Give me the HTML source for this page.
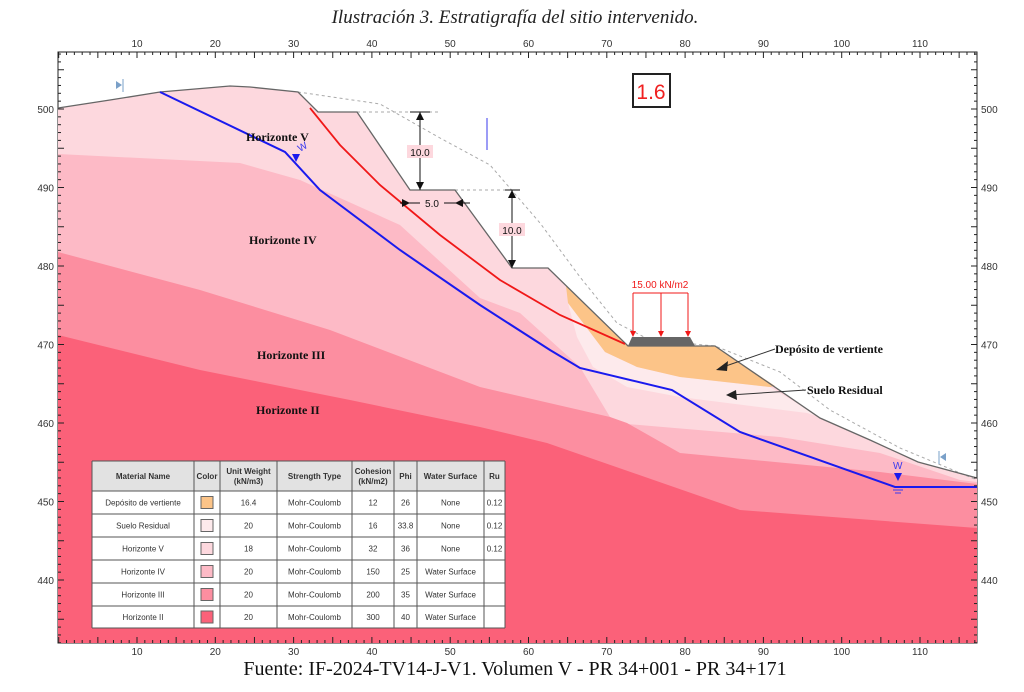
<!DOCTYPE html>
<html><head><meta charset="utf-8"><style>
body{margin:0;background:#fff;width:1024px;height:692px;overflow:hidden}
svg{display:block}
.lab{font-family:"Liberation Serif",serif;font-weight:bold;font-size:12px;fill:#111}
.ax{font-family:"Liberation Sans",sans-serif;font-size:10px;fill:#333}
.tb{font-family:"Liberation Sans",sans-serif;font-size:8px;fill:#333}
.tbh{font-family:"Liberation Sans",sans-serif;font-size:8px;font-weight:bold;fill:#333}
</style></head><body>
<svg id="s" width="1024" height="692" xmlns="http://www.w3.org/2000/svg">
<text x="515" y="23" text-anchor="middle" font-family="Liberation Serif,serif" font-style="italic" font-size="19" fill="#222">Ilustración 3. Estratigrafía del sitio intervenido.</text>
<rect x="58" y="52" width="919" height="591" fill="#fff" stroke="#222"/>
<polygon fill="#fdd8de" points="58,108 110,100 160,92 230,86 250,87 298,92 318,112 357,112 410,190 455,190 512,268 548,268 628,346 715,346 820,418 870,440 918,462 977,478 977,643 58,643"/>
<polygon fill="#fdbac6" points="58,154 240,163 300,180 400,225 480,298 520,313 580,367 610,417 627,424 780,437 880,453 960,480 977,482 977,643 58,643"/>
<polygon fill="#fc8ea0" points="58,252 200,290 330,330 480,387 610,417 627,423 680,453 880,472 977,484 977,643 58,643"/>
<polygon fill="#fb6179" points="58,335 200,370 350,400 480,427 547,443 740,510 977,528 977,643 58,643"/>
<polygon fill="#fdeaec" points="568,303 605,352 637,367 680,377 770,387 820,417 807,413 680,397 627,387 593,367 577,337"/>
<polygon fill="#fcc488" points="566,286 628,346 715,346 775,386 770,387 680,377 637,367 605,352 568,303"/>
<polyline fill="none" stroke="#aaa" stroke-dasharray="3,3" points="298,92 380,104 440,138 490,165 540,223 580,277 617,323 650,340 715,346 780,372 830,410 900,448 977,480"/>
<line x1="357" y1="112" x2="440" y2="112" stroke="#aaa" stroke-dasharray="3,3"/>
<line x1="455" y1="190" x2="515" y2="190" stroke="#aaa" stroke-dasharray="3,3"/>
<polyline fill="none" stroke="#666" stroke-width="1.3" points="58,108 110,100 160,92 230,86 250,87 298,92 318,112 357,112 410,190 455,190 512,268 548,268 628,346 715,346 820,418 870,440 918,462 977,478"/>
<polyline fill="none" stroke="#1a1aee" stroke-width="2" points="160,92 285,152 320,190 400,250 480,305 550,350 580,368 672,390 740,432 895,487 977,487"/>
<polyline fill="none" stroke="#f01818" stroke-width="1.8" points="310,108 340,145 380,185 440,235 500,280 560,315 625,344"/>
<polygon points="292,154 300,154 296,162" fill="#1a1aee"/><text x="300" y="152" font-size="10" fill="#3a3aee" font-family="Liberation Sans" transform="rotate(-30 300 152)">W</text>
<polygon points="894,473 902,473 898,481" fill="#1a1aee"/><text x="893" y="469" font-size="10" fill="#3a3aee" font-family="Liberation Sans">W</text>
<line x1="893" y1="490" x2="903" y2="490" stroke="#3a3aee"/><line x1="895" y1="493" x2="901" y2="493" stroke="#3a3aee"/>
<polygon points="116,81 116,89 122,85" fill="#7aa0c8"/><line x1="123" y1="79" x2="123" y2="92" stroke="#7aa0c8"/>
<polygon points="946,453 946,461 940,457" fill="#7aa0c8"/><line x1="939" y1="451" x2="939" y2="464" stroke="#7aa0c8"/>
<line x1="487" y1="118" x2="487" y2="150" stroke="#3a3aee"/>
<g stroke="#111" fill="none">
<line x1="420" y1="112" x2="420" y2="190"/><line x1="410" y1="112" x2="430" y2="112"/>
<line x1="512" y1="190" x2="512" y2="268"/><line x1="505" y1="190" x2="520" y2="190"/>
<line x1="400" y1="203" x2="470" y2="203"/>
</g>
<rect x="407" y="145" width="26" height="13" fill="#fdd8de"/><text x="420" y="156" text-anchor="middle" font-size="10" font-family="Liberation Sans" fill="#111">10.0</text>
<rect x="499" y="223" width="26" height="13" fill="#fdd8de"/><text x="512" y="234" text-anchor="middle" font-size="10" font-family="Liberation Sans" fill="#111">10.0</text>
<rect x="420" y="197" width="24" height="12" fill="#fdd8de"/><text x="432" y="207" text-anchor="middle" font-size="10" font-family="Liberation Sans" fill="#111">5.0</text>
<g fill="#111"><polygon points="416,120 424,120 420,112"/><polygon points="416,182 424,182 420,190"/><polygon points="508,198 516,198 512,190"/><polygon points="508,260 516,260 512,268"/><polygon points="402,199 402,207 410,203"/><polygon points="463,199 463,207 455,203"/></g>
<text x="660" y="288" text-anchor="middle" font-size="10" font-family="Liberation Sans" fill="#f01818">15.00 kN/m2</text>
<g stroke="#f01818"><line x1="633" y1="293" x2="688" y2="293"/><line x1="633" y1="293" x2="633" y2="336"/><line x1="661" y1="293" x2="661" y2="336"/><line x1="688" y1="293" x2="688" y2="336"/></g>
<g fill="#f01818"><polygon points="630,331 636,331 633,337"/><polygon points="658,331 664,331 661,337"/><polygon points="685,331 691,331 688,337"/></g>
<polygon points="632,337 690,337 695,346 628,346" fill="#666"/>
<rect x="633" y="74" width="37" height="33" fill="#fff" stroke="#222" stroke-width="2"/>
<text x="651" y="99" text-anchor="middle" font-size="21" font-family="Liberation Sans" fill="#f02020">1.6</text>
<text class="lab" x="246" y="141">Horizonte V</text>
<text class="lab" x="249" y="244">Horizonte IV</text>
<text class="lab" x="257" y="359">Horizonte III</text>
<text class="lab" x="256" y="414">Horizonte II</text>
<text class="lab" x="775" y="353">Depósito de vertiente</text>
<text class="lab" x="807" y="394">Suelo Residual</text>
<g stroke="#333"><line x1="775" y1="349" x2="720" y2="368"/><line x1="806" y1="390" x2="730" y2="395"/></g>
<g fill="#222"><polygon points="716,370 728,361 727,371"/><polygon points="726,395 736,390 737,400"/></g>
<g id="tbl"></g>
<g id="ticks" stroke="#222"></g>
<text x="515" y="675" text-anchor="middle" font-family="Liberation Serif,serif" font-size="20" fill="#111">Fuente: IF-2024-TV14-J-V1. Volumen V - PR 34+001 - PR 34+171</text>
</svg>
<script>
var NS="http://www.w3.org/2000/svg",s=document.getElementById('s'),tk=document.getElementById('ticks');
function el(t,a,p,txt){var e=document.createElementNS(NS,t);for(var k in a)e.setAttribute(k,a[k]);if(txt!=null)e.textContent=txt;(p||s).appendChild(e);return e}
for(var i=0;i<=117;i++){var x=58.7+7.83*i;if(x>977)break;var L=i%5==0?6:3;
el('line',{x1:x,y1:52,x2:x,y2:52+L},tk);el('line',{x1:x,y1:643,x2:x,y2:643-L},tk);
if(i%10==0&&i>0){el('text',{x:x,y:47,'text-anchor':'middle','class':'ax'},null,i);el('text',{x:x,y:655,'text-anchor':'middle','class':'ax'},null,i);}}
for(var v=432;v<=507;v++){var y=109+(500-v)*7.85;if(y<52||y>643)continue;var L=v%5==0?6:3;
el('line',{x1:58,y1:y,x2:58+L,y2:y},tk);el('line',{x1:977,y1:y,x2:977-L,y2:y},tk);
if(v%10==0){el('text',{x:54,y:y+4,'text-anchor':'end','class':'ax'},null,v);el('text',{x:981,y:y+4,'class':'ax'},null,v);}}
var tb=document.getElementById('tbl');
var cols=[92,194,220,277,352,394,417,484,505];
var rows=[461,491,514,537,560,583,606,628];
el('rect',{x:92,y:461,width:413,height:30,fill:'#e2e2e2'},tb);
el('rect',{x:92,y:491,width:413,height:137,fill:'#fff'},tb);
var H=[["Material Name"],["Color"],["Unit Weight","(kN/m3)"],["Strength Type"],["Cohesion","(kN/m2)"],["Phi"],["Water Surface"],["Ru"]];
H.forEach(function(h,j){var cx=(cols[j]+cols[j+1])/2;if(h.length==1)el('text',{x:cx,y:479,'text-anchor':'middle','class':'tbh'},tb,h[0]);else{el('text',{x:cx,y:474,'text-anchor':'middle','class':'tbh'},tb,h[0]);el('text',{x:cx,y:484,'text-anchor':'middle','class':'tbh'},tb,h[1]);}});
var D=[["Depósito de vertiente","#fcc488","16.4","Mohr-Coulomb","12","26","None","0.12"],["Suelo Residual","#fdeaec","20","Mohr-Coulomb","16","33.8","None","0.12"],["Horizonte V","#fdd8de","18","Mohr-Coulomb","32","36","None","0.12"],["Horizonte IV","#fdbac6","20","Mohr-Coulomb","150","25","Water Surface",""],["Horizonte III","#fc8ea0","20","Mohr-Coulomb","200","35","Water Surface",""],["Horizonte II","#fb6179","20","Mohr-Coulomb","300","40","Water Surface",""]];
D.forEach(function(r,i){var y0=rows[i+1],y1=rows[i+2],cy=(y0+y1)/2;r.forEach(function(c,j){var cx=(cols[j]+cols[j+1])/2;if(j==1)el('rect',{x:cx-6,y:cy-6,width:12,height:12,fill:c,stroke:'#666'},tb);else el('text',{x:cx,y:cy+3,'text-anchor':'middle','class':'tb'},tb,c);});});
rows.forEach(function(y){el('line',{x1:92,y1:y,x2:505,y2:y,stroke:'#555'},tb)});
cols.forEach(function(x){el('line',{x1:x,y1:461,x2:x,y2:628,stroke:'#555'},tb)});
</script>
</body></html>
